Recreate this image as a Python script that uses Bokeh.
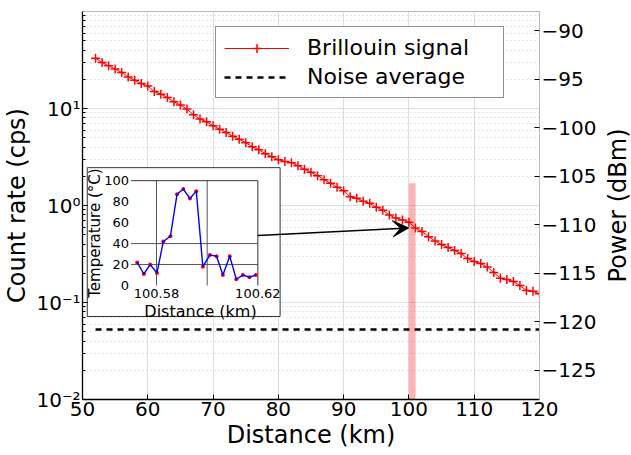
import math
from bokeh.plotting import figure
from bokeh.layouts import row
from bokeh.models import (Range1d, LinearAxis, LinearScale, FixedTicker, Arrow, VeeHead)
from bokeh.core.properties import value
from bokeh.embed import file_html
from bokeh.resources import INLINE

FONT = "DejaVu Sans"

# ---------------- data ----------------
DISTANCE_KM = [52, 53, 54, 55, 56, 57, 58, 59, 60, 61, 62, 63, 64, 65, 66, 67, 68, 69, 70,
               71, 72, 73, 74, 75, 76, 77, 78, 79, 80, 81, 82, 83, 84, 85, 86, 87, 88, 89, 90,
               91, 92, 93, 94, 95, 96, 97, 98, 99, 100, 101, 102, 103, 104, 105, 106, 107, 108,
               109, 110, 111, 112, 113, 114, 115, 116, 117, 118, 119, 120]
BRILLOUIN_DBM = [-92.81, -93.26, -93.60, -93.94, -94.29, -94.74, -95.08, -95.43, -95.69, -96.25,
                 -96.52, -96.87, -97.31, -97.65, -98.06, -98.65, -99.09, -99.37, -99.78, -100.14,
                 -100.47, -100.86, -101.17, -101.53, -101.94, -102.25, -102.66, -102.97, -103.28,
                 -103.46, -103.59, -103.90, -104.26, -104.57, -104.93, -105.34, -105.70, -106.11,
                 -106.47, -107.09, -107.26, -107.57, -107.78, -108.17, -108.48, -108.99, -109.30,
                 -109.49, -109.73, -110.33, -110.69, -111.21, -111.67, -112.03, -112.34, -112.63,
                 -112.96, -113.47, -113.78, -113.99, -114.35, -114.91, -115.51, -115.63, -115.84,
                 -116.25, -116.77, -116.85, -117.10]
NOISE_KM = [52, 120]
NOISE_DBM = [-120.78, -120.78]

HOTSPOT_KM = [100.0, 101.0]
HOTSPOT_TOP_DBM = -105.7

INSET_DIST_KM = [100.5724, 100.5750, 100.5775, 100.5802, 100.5827, 100.5855, 100.5881, 100.5906,
                 100.5932, 100.5957, 100.5983, 100.6011, 100.6037, 100.6062, 100.6089, 100.6115,
                 100.6141, 100.6167, 100.6192]
INSET_TEMP_C = [22, 11, 20, 12, 42, 47, 87, 92, 83, 90, 18, 29, 28, 10, 28, 6, 10, 8, 10]

X_TICKS = [50, 60, 70, 80, 90, 100, 110, 120]
COUNT_TICKS = [0.01, 0.1, 1, 10]
COUNT_LABELS = ["10⁻²", "10⁻¹", "10⁰", "10¹"]
POWER_TICKS = [-125, -120, -115, -110, -105, -100, -95, -90]
INSET_X_TICKS = [100.58, 100.62]
INSET_X_LABELS = ["100.58", "100.62"]
INSET_Y_TICKS = [0, 20, 40, 60, 80, 100]
INSET_GRID_X = [100.58, 100.60]
INSET_GRID_T = [20, 40]

# ---------------- layout constants ----------------
X_RANGE = (50, 120)
COUNT_RANGE = (1e-2, 1e2)
POWER_RANGE = (-128, -88)
INSET_X_RANGE = (100.57, 100.62)
INSET_T_RANGE = (0, 100)
INSET_AREA_KM = (57.45, 76.86)        # inset axes area, in main coordinates
INSET_AREA_DBM = (-116.25, -105.44)
INSET_BOX_KM = (50.73, 80.27)         # white inset panel
INSET_BOX_DBM = (-119.44, -104.10)
ARROW_START = (INSET_AREA_KM[1], -111.1)
ARROW_END = (99.97, -110.31)
BORDER = dict(min_border_top=11, min_border_bottom=56)


def outer_range(inner_data, inner_pos, outer_pos):
    k = (inner_data[1] - inner_data[0]) / (inner_pos[1] - inner_pos[0])
    return (inner_data[0] - (inner_pos[0] - outer_pos[0]) * k,
            inner_data[1] + (outer_pos[1] - inner_pos[1]) * k)


ix = outer_range(INSET_X_RANGE, INSET_AREA_KM, X_RANGE)
iy = outer_range(INSET_T_RANGE, INSET_AREA_DBM, POWER_RANGE)

p = figure(width=601, height=455, x_range=Range1d(*X_RANGE), y_range=Range1d(*COUNT_RANGE),
           y_axis_type="log", output_backend="svg", toolbar_location=None,
           min_border_left=81, min_border_right=62, **BORDER)
p.extra_y_ranges = {"power": Range1d(*POWER_RANGE), "iy": Range1d(*iy)}
p.extra_x_ranges = {"ix": Range1d(*ix)}
p.extra_y_scales = {"power": LinearScale(), "iy": LinearScale()}
p.background_fill_color = "white"
p.border_fill_color = "white"
p.outline_line_color = "#bbbbbb"

# axes
left_ax = p.left[0]
bottom_ax = p.below[0]
xt = FixedTicker(ticks=X_TICKS)
minor = [m * d for d in [0.01, 0.1, 1, 10] for m in range(2, 10)]
yt = FixedTicker(ticks=COUNT_TICKS, minor_ticks=minor)
bottom_ax.ticker = xt
p.xgrid.ticker = xt
left_ax.ticker = yt
p.ygrid.ticker = yt
left_ax.major_label_overrides = dict(zip(COUNT_TICKS, COUNT_LABELS))

ax_r = LinearAxis(y_range_name="power", ticker=FixedTicker(ticks=POWER_TICKS))
p.add_layout(ax_r, "right")

for ax in [bottom_ax, left_ax, ax_r]:
    ax.axis_line_color = "black"
    ax.axis_line_width = 1.3
    ax.major_tick_in = 5
    ax.major_tick_out = 0
    ax.minor_tick_in = 3
    ax.minor_tick_out = 0
    ax.major_label_text_font = FONT
    ax.major_label_text_font_size = "20px"
    ax.major_label_text_color = "black"
    ax.major_label_standoff = 2
    ax.axis_label_text_font = FONT
    ax.axis_label_text_font_size = "24px"
    ax.axis_label_text_font_style = "normal"
    ax.axis_label_text_color = "black"
    ax.axis_label_standoff = 2
bottom_ax.minor_tick_in = 0
bottom_ax.axis_label = "Distance (km)"
left_ax.axis_label = "Count rate (cps)"
ax_r.axis_line_color = "#bbbbbb"
ax_r.axis_line_width = 1
ax_r.minor_tick_line_color = None

p.xgrid.grid_line_color = "#dddddd"
p.ygrid.grid_line_color = "#dddddd"
p.ygrid.minor_grid_line_color = "#c8c8c8"
p.ygrid.minor_grid_line_dash = "1 3"

# main series
p.line(NOISE_KM, NOISE_DBM, y_range_name="power", line_color="black", line_width=2.5,
       line_dash="6 5", legend_label="Noise average")
p.line(DISTANCE_KM, BRILLOUIN_DBM, y_range_name="power", line_color="red", line_width=1,
       legend_label="Brillouin signal")
p.scatter(DISTANCE_KM, BRILLOUIN_DBM, y_range_name="power", marker="cross", size=9,
          line_color="red", line_width=1.5, legend_label="Brillouin signal")
p.quad(left=[HOTSPOT_KM[0]], right=[HOTSPOT_KM[1]], bottom=[POWER_RANGE[0]], top=[HOTSPOT_TOP_DBM],
       y_range_name="power", fill_color="red", fill_alpha=0.3, line_alpha=0)

# inset panel
p.quad(left=[INSET_BOX_KM[0]], right=[INSET_BOX_KM[1]], bottom=[INSET_BOX_DBM[0]],
       top=[INSET_BOX_DBM[1]], y_range_name="power", fill_color="white",
       line_color="#333333", line_width=1)
kw = dict(x_range_name="ix", y_range_name="iy")
p.segment(x0=[INSET_X_RANGE[0]] * len(INSET_GRID_T), x1=[INSET_X_RANGE[1]] * len(INSET_GRID_T),
          y0=INSET_GRID_T, y1=INSET_GRID_T, line_color="#555555", line_width=1, **kw)
p.segment(x0=INSET_GRID_X, x1=INSET_GRID_X, y0=[INSET_T_RANGE[0]] * len(INSET_GRID_X),
          y1=[INSET_T_RANGE[1]] * len(INSET_GRID_X), line_color="#555555", line_width=1, **kw)
p.segment(x0=[INSET_X_RANGE[0], INSET_X_RANGE[1]], x1=[INSET_X_RANGE[1], INSET_X_RANGE[1]],
          y0=[INSET_T_RANGE[1], INSET_T_RANGE[0]], y1=[INSET_T_RANGE[1], INSET_T_RANGE[1]],
          line_color="#333333", line_width=1, **kw)
p.scatter(INSET_DIST_KM, INSET_TEMP_C, size=4, fill_color="red", line_color=None, **kw)
p.line(INSET_DIST_KM, INSET_TEMP_C, line_color="blue", line_width=1.4, **kw)
p.text(x=[INSET_X_RANGE[0]] * len(INSET_Y_TICKS), y=INSET_Y_TICKS,
       text=[str(t) for t in INSET_Y_TICKS], text_font=value(FONT), text_font_size="13px",
       text_align="right", text_baseline="middle", x_offset=-2, text_color="black", **kw)
p.text(x=INSET_X_TICKS, y=[INSET_T_RANGE[0]] * len(INSET_X_TICKS), text=INSET_X_LABELS,
       text_font=value(FONT), text_font_size="13px", text_align="center",
       text_baseline="top", y_offset=3, text_color="black", **kw)
p.text(x=[(INSET_X_RANGE[0] + INSET_X_RANGE[1]) / 2], y=[INSET_T_RANGE[0]], text=["Distance (km)"],
       text_font=value(FONT), text_font_size="16px", text_align="center",
       text_baseline="top", y_offset=16, x_offset=6, text_color="black", **kw)
p.text(x=[INSET_X_RANGE[0]], y=[(INSET_T_RANGE[0] + INSET_T_RANGE[1]) / 2],
       text=["Temperature (°C)"], text_font=value(FONT), text_font_size="15px",
       text_align="center", text_baseline="middle", angle=math.pi / 2, x_offset=-36,
       text_color="black", **kw)

p.add_layout(Arrow(end=VeeHead(size=16, fill_color="black", line_color="black"),
                   x_start=ARROW_START[0], y_start=ARROW_START[1],
                   x_end=ARROW_END[0], y_end=ARROW_END[1], y_range_name="power",
                   line_color="black", line_width=1.5))

# legend
lg = p.legend[0]
lg.items = [lg.items[1], lg.items[0]]
lg.location = (133, 301)
lg.label_text_font = FONT
lg.label_text_font_size = "22px"
lg.label_text_color = "black"
lg.glyph_width = 65
lg.glyph_height = 22
lg.label_standoff = 18
lg.padding = 8
lg.spacing = 4
lg.margin = 0
lg.label_width = 188
lg.border_line_color = "#222222"
lg.border_line_width = 1.2
lg.background_fill_alpha = 1

# right-hand title "Power (dBm)" as a narrow companion figure (reads bottom-to-top)
pr = figure(width=30, height=455, x_range=Range1d(0, 1), y_range=Range1d(0, 1),
            output_backend="svg", toolbar_location=None, x_axis_location=None,
            min_border_left=0, min_border_right=0, **BORDER)
pr.outline_line_color = None
pr.grid.visible = False
pr.background_fill_color = "white"
pr.border_fill_color = "white"
ya = pr.yaxis[0]
ya.ticker = FixedTicker(ticks=[])
ya.axis_line_color = None
ya.major_tick_line_color = None
ya.minor_tick_line_color = None
ya.axis_label = "Power (dBm)"
ya.axis_label_text_font = FONT
ya.axis_label_text_font_size = "24px"
ya.axis_label_text_font_style = "normal"
ya.axis_label_text_color = "black"
ya.axis_label_standoff = 0
ya.major_label_standoff = 0

layout = row(p, pr)
open("out.html", "w").write(file_html(layout, INLINE))
